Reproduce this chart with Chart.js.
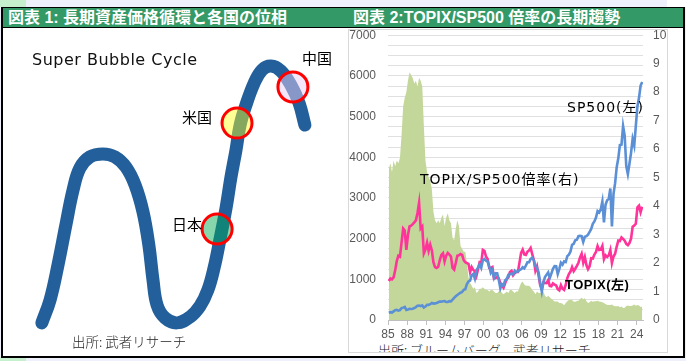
<!DOCTYPE html>
<html><head><meta charset="utf-8">
<script src="https://cdn.jsdelivr.net/npm/chart.js@4.4.1/dist/chart.umd.min.js"></script>
<style>
body{margin:0;width:686px;height:361px;position:relative;overflow:hidden;background:#eef0fb;font-family:"Noto Sans CJK JP",sans-serif;}
.abs{position:absolute;white-space:nowrap;}
.t{position:absolute;white-space:nowrap;line-height:1;}
</style></head><body>
<div class="abs" style="left:0;top:0;width:26px;height:7px;background:#c6efce"></div>
<div class="abs" style="left:667px;top:0;width:19px;height:7px;background:#fff"></div>
<div class="abs" style="left:0;top:357px;width:26px;height:4px;background:#c6efce"></div>
<div class="abs" style="left:1px;top:7px;width:680px;height:348px;border:2px solid #000;border-top-width:1px;background:#fff"></div>
<div class="abs" style="left:3px;top:8px;width:680px;height:19px;background:#339966;border-bottom:1px solid #000"></div>
<div class="t" style="left:8px;top:9px;font:bold 16px 'Liberation Sans','Noto Sans CJK JP';color:#fff;line-height:17px">図表 1: 長期資産価格循環と各国の位相</div>
<div class="t" style="left:353px;top:9px;font:bold 16px 'Liberation Sans','Noto Sans CJK JP';color:#fff;line-height:17px">図表 2:TOPIX/SP500 倍率の長期趨勢</div>

<div class="abs" style="left:348px;top:29px;width:318px;height:322px;border:1px solid #d9d9d9;overflow:hidden">
  <div class="t" style="left:29px;top:310px;font:300 13px 'Noto Sans CJK JP';color:#222">出所: ブルームバーグ、武者リサーチ</div>
</div>

<div class="abs" style="left:0;top:28px;width:343px;height:328px"><canvas id="c1" width="343" height="328"></canvas></div>
<div class="abs" style="left:349px;top:16px;width:318px;height:337px"><canvas id="c2" width="318" height="337"></canvas></div>

<div class="t" style="left:32px;top:50px;font:16px 'DejaVu Sans';letter-spacing:0.5px;color:#111">Super Bubble Cycle</div>
<div class="t" style="left:302px;top:47px;font:15px 'Noto Sans CJK JP';color:#000">中国</div>
<div class="t" style="left:182px;top:106px;font:15px 'Noto Sans CJK JP';color:#000">米国</div>
<div class="t" style="left:172px;top:213px;font:15px 'Noto Sans CJK JP';color:#000">日本</div>
<div class="t" style="left:72px;top:331px;font:300 13.5px 'Noto Sans CJK JP';color:#222">出所: 武者リサーチ</div>

<div class="t" style="left:567px;top:96px;font:14px 'DejaVu Sans','Noto Sans CJK JP';letter-spacing:1px;color:#000">SP500(左)</div>
<div class="t" style="left:420px;top:168px;font:14px 'DejaVu Sans','Noto Sans CJK JP';letter-spacing:1px;color:#000">TOPIX/SP500倍率(右)</div>
<div class="t" style="left:565px;top:274px;font:bold 13px 'Liberation Sans','Noto Sans CJK JP';letter-spacing:0.5px;color:#000">TOPIX(左)</div>

<script>
// ---------- Figure 1: schematic super bubble cycle ----------
const curvePhase = [12.2,14.6,16.9,19.2,21.3,23.3,26.2,30.0,33.5,36.7,39.4,41.7,43.4,44.6,45.8,48.1,51.6,55.4,58.3,60.6,62.4,64.1,65.9,67.3,68.8,70.0,71.7,74.1,76.4,79.0,81.9,84.8,87.2,88.9];
const curveLevel = [10.1,17.1,27.7,39.9,50.6,57.3,60.7,61.6,60.7,57.6,52.1,43.9,33.8,23.2,15.5,11.6,10.1,11.9,15.2,20.1,26.8,35.4,45.1,54.3,62.8,70.4,76.5,83.2,87.2,88.4,86.9,82.6,77.1,70.4];
const markerNames = ['日本','米国','中国'];
const markerPhase = [63.3,69.1,85.4];
const markerLevel = [38.7,71.0,82.0];
const markerFill = ['rgba(0,170,80,0.47)','rgba(255,255,20,0.45)','rgba(236,208,245,0.5)'];

const ds1 = markerNames.map((n,i)=>({
  label:n, data:[{x:markerPhase[i],y:markerLevel[i]}], showLine:false,
  pointRadius:15, pointHoverRadius:15, pointBackgroundColor:markerFill[i],
  pointBorderColor:'#ff0000', pointBorderWidth:3
}));
ds1.push({
  label:'cycle', data:curvePhase.map((x,i)=>({x:x,y:curveLevel[i]})),
  showLine:true, tension:0.4, borderColor:'#23609b', borderWidth:13,
  borderCapStyle:'round', borderJoinStyle:'round', pointRadius:0, fill:false
});
new Chart(document.getElementById('c1'),{
  type:'scatter', data:{datasets:ds1},
  options:{responsive:false, animation:false, devicePixelRatio:1,
    layout:{padding:0, autoPadding:false},
    plugins:{legend:{display:false}, tooltip:{enabled:false}},
    scales:{x:{type:'linear',min:0,max:100,display:false}, y:{type:'linear',min:0,max:100,display:false}}
  }
});

// ---------- Figure 2: TOPIX / SP500 ----------
const startYear = 1985;
const sp500 = [181,192,182,211, 239,251,231,242, 292,304,321,247, 259,273,272,278, 295,318,349,353,
 339,358,306,330, 375,371,388,417, 404,408,418,436, 452,451,459,466, 446,444,463,459,
 501,545,584,616, 645,671,687,741, 757,885,947,970, 1102,1134,1017,1229, 1286,1373,1283,1469,
 1499,1455,1437,1320, 1160,1224,1041,1148, 1147,990,780,880, 848,975,996,1112, 1126,1141,1115,1212,
 1181,1191,1229,1248, 1295,1270,1336,1418, 1421,1503,1527,1468, 1323,1280,1166,903, 700,919,1057,1115,
 1169,1031,1141,1258, 1326,1321,1131,1258, 1408,1362,1441,1426, 1569,1606,1682,1848, 1872,1960,1972,2059,
 2068,2063,1920,2044, 2060,2099,2168,2239, 2363,2423,2519,2674, 2641,2718,2914,2400, 2834,2942,2977,3231,
 2300,3100,3363,3756, 3973,4298,4308,4766, 4530,3785,3586,3840, 4109,4450,4288,4770, 5254,5460,5762,5850];
const topix = [960,1020,1000,1049, 1220,1450,1580,1556, 1900,2250,2200,1725, 2080,2300,2320,2357, 2400,2450,2630,2881,
 2250,2300,1640,1733, 1900,1700,1850,1714, 1420,1300,1280,1308, 1470,1600,1640,1439, 1580,1650,1610,1559,
 1280,1240,1400,1577, 1590,1620,1600,1470, 1420,1400,1380,1175, 1300,1230,1200,1086, 1250,1420,1400,1722,
 1700,1560,1500,1283, 1280,1300,1020,1032, 1060,1020,900,843, 790,900,1020,1043, 1180,1210,1100,1149,
 1180,1180,1410,1649, 1730,1610,1600,1681, 1710,1770,1620,1475, 1210,1320,1090,859, 770,930,910,907,
 980,840,830,899, 870,850,760,729, 855,770,740,860, 1030,1130,1190,1302, 1200,1260,1330,1408,
 1540,1630,1410,1547, 1350,1250,1320,1519, 1510,1610,1670,1818, 1720,1730,1820,1494, 1590,1550,1590,1721,
 1400,1560,1630,1805, 1950,1940,2030,1992, 1950,1870,1840,1892, 2000,2290,2320,2366, 2770,2810,2650,2785];
const ratio = [5.3,5.5,5.2,5.6, 5.4,5.6,5.5,5.7, 6.5,7.5,7.8,8.0, 8.4,8.7,8.6,8.5, 8.3,8.4,8.2,8.5,
 8.4,8.2,6.8,5.6, 5.2,5.0,4.9,4.6, 3.8,3.5,3.4,3.5, 3.4,3.6,3.7,3.3, 3.6,3.75,3.5,3.4,
 2.9,2.8,3.2,3.5, 3.3,2.6,2.5,2.4, 2.4,2.0,1.5,1.3, 1.2,1.1,1.15,0.95, 1.0,1.1,1.1,1.15,
 1.1,1.05,1.05,1.0, 1.05,1.05,1.0,0.95, 0.95,1.0,1.05,0.95, 0.9,0.95,1.0,0.95, 1.05,1.05,1.0,0.95,
 1.0,1.0,1.15,1.3, 1.35,1.25,1.2,1.2, 1.2,1.15,1.05,1.0, 0.9,1.0,0.95,0.95, 0.95,1.0,0.85,0.8,
 0.85,0.8,0.75,0.7, 0.65,0.65,0.65,0.6, 0.6,0.57,0.52,0.6, 0.66,0.7,0.71,0.7, 0.64,0.64,0.67,0.68,
 0.74,0.78,0.73,0.76, 0.66,0.6,0.62,0.68, 0.64,0.66,0.66,0.68, 0.65,0.64,0.62,0.6, 0.56,0.53,0.53,0.53,
 0.54,0.5,0.48,0.48, 0.49,0.45,0.47,0.42, 0.43,0.49,0.51,0.49, 0.49,0.51,0.54,0.5, 0.53,0.51,0.46,0.47];
const xTickYears = [1985,1988,1991,1994,1997,2000,2003,2006,2009,2012,2015,2018,2021,2024];
const xTickLabels = ['85','88','91','94','97','00','03','06','09','12','15','18','21','24'];
const leftTickLabels = ['0','1000','2000','3000','4000','5000','6000','7000'];
const rightTickLabels = ['0','1','2','3','4','5','6','7','8','9','10'];

const qTime = sp500.map((v,i)=> startYear + (i+0.5)/4);
const pts = arr => arr.map((v,i)=>({x:qTime[i], y:v}));
const tickFont = {family:'Liberation Sans', size:12};
const tickColor = '#595959';
const gridVals = []; for (let v=0; v<=7000; v+=250) gridVals.push(v);

new Chart(document.getElementById('c2'),{
  type:'line',
  data:{datasets:[
    {label:'SP500', data:pts(sp500), yAxisID:'y', borderColor:'#5b8fd6', borderWidth:2.6, pointRadius:0, tension:0, fill:false},
    {label:'TOPIX', data:pts(topix), yAxisID:'y', borderColor:'#ff3399', borderWidth:2.6, pointRadius:0, tension:0, fill:false},
    {label:'TOPIX/SP500', data:pts(ratio), yAxisID:'y1', borderWidth:0, borderColor:'rgba(0,0,0,0)', backgroundColor:'#c4d79b', pointRadius:0, tension:0, fill:'origin'}
  ]},
  options:{responsive:false, animation:false, devicePixelRatio:1,
    layout:{padding:{left:0,right:0,top:0,bottom:0}, autoPadding:false},
    plugins:{legend:{display:false}, tooltip:{enabled:false}},
    scales:{
      x:{type:'linear', min:1985, max:2025,
        afterBuildTicks:s=>{ s.ticks = xTickYears.map(v=>({value:v})); },
        afterFit:s=>{ s.height = 33; },
        ticks:{autoSkip:false, maxRotation:0, font:tickFont, color:tickColor, padding:2,
          callback:(v,i)=>xTickLabels[i]},
        grid:{display:true, drawOnChartArea:false, drawTicks:true, tickLength:5, color:'#bfbfbf'},
        border:{display:true, color:'#bfbfbf'}
      },
      y:{type:'linear', position:'left', min:0, max:7000,
        afterBuildTicks:s=>{ s.ticks = gridVals.map(v=>({value:v})); },
        afterFit:s=>{ s.width = 39; },
        ticks:{autoSkip:false, font:tickFont, color:tickColor, padding:12,
          callback:v=> (v%1000===0 ? leftTickLabels[v/1000] : '')},
        grid:{color:'#e0e0e0', lineWidth:1, drawTicks:false},
        border:{display:false}
      },
      y1:{type:'linear', position:'right', min:0, max:10,
        afterBuildTicks:s=>{ s.ticks = rightTickLabels.map((l,i)=>({value:i})); },
        afterFit:s=>{ s.width = 24; },
        ticks:{autoSkip:false, font:tickFont, color:tickColor, padding:10,
          callback:(v,i)=>rightTickLabels[i]},
        grid:{display:false, drawTicks:false},
        border:{display:false}
      }
    }
  }
});
</script>
</body></html>
